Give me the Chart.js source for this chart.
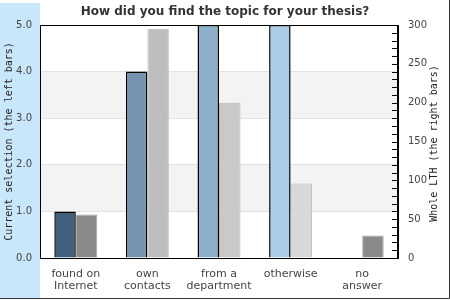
<!DOCTYPE html>
<html>
<head>
<meta charset="utf-8">
<script src="https://cdn.jsdelivr.net/npm/chart.js@4/dist/chart.umd.min.js"></script>
<style>
html,body{margin:0;padding:0;background:#fff;}
#wrap{width:450px;height:300px;position:relative;}
</style>
</head>
<body>
<div id="wrap"><canvas id="c" width="450" height="300"></canvas></div>
<script>
const titleText = 'How did you find the topic for your thesis?';
const categories = [['found on','Internet'], ['own','contacts'], ['from a','department'], 'otherwise', ['no','answer']];
const currentSelection = [1, 4, 5, 5, 0];
const wholeLTH = [56, 295, 200, 96, 29];
const leftTicks = [0, 1, 2, 3, 4, 5];
const rightTicks = [0, 50, 100, 150, 200, 250, 300];
const leftTitle = 'Current selection (the left bars)';
const rightTitle = 'Whole LTH (the right bars)';

const leftColors = ['#41607e', '#7393b0', '#8eafca', '#abcde8', '#c6e2f6'];
const rightColors = ['#8a8a8a', '#bebebe', '#c9c9c9', '#d8d8d8', '#8a8a8a'];
const rightBorders = ['#a8a8a8', '#c4c4c4', '#b8b8b8', '#bcbcbc', '#a0a0a0'];

const decor = {
  id: 'decor',
  beforeDraw(chart) {
    const ctx = chart.ctx, ca = chart.chartArea;
    const y = chart.scales.y;
    ctx.save();
    ctx.fillStyle = '#c8e7fb';
    ctx.fillRect(0, 3, ca.left, 295);
    ctx.fillStyle = '#f3f3f3';
    [[1, 2], [3, 4]].forEach(([a, b]) => {
      const y1 = y.getPixelForValue(b), y2 = y.getPixelForValue(a);
      ctx.fillRect(ca.left, y1, ca.right - ca.left, y2 - y1);
    });
    ctx.strokeStyle = '#333';
    ctx.lineWidth = 1;
    ctx.beginPath();
    ctx.moveTo(0, 298.5); ctx.lineTo(449.5, 298.5); ctx.lineTo(449.5, 0);
    ctx.stroke();
    ctx.restore();
  },
  afterDatasetsDraw(chart) {
    const ctx = chart.ctx, ca = chart.chartArea;
    const y2 = chart.scales.y2;
    ctx.save();
    ctx.strokeStyle = '#000';
    ctx.lineWidth = 1;
    ctx.strokeRect(Math.round(ca.left) + 0.5, Math.round(ca.top) + 0.5,
                   Math.round(ca.right - ca.left) - 1, Math.round(ca.bottom - ca.top));
    ctx.beginPath();
    for (let v = y2.min; v <= y2.max; v += 10) {
      const py = Math.round(y2.getPixelForValue(v)) + 0.5;
      ctx.moveTo(ca.right - 6, py);
      ctx.lineTo(ca.right, py);
    }
    ctx.stroke();
    ctx.fillStyle = '#222';
    ctx.font = '10px "DejaVu Sans Mono"';
    ctx.textAlign = 'center';
    ctx.textBaseline = 'middle';
    ctx.translate(434, (ca.top + ca.bottom) / 2 + 2);
    ctx.rotate(-Math.PI / 2);
    ctx.fillText(rightTitle, 0, 0);
    ctx.restore();
  }
};

new Chart(document.getElementById('c'), {
  type: 'bar',
  data: {
    labels: categories,
    datasets: [
      {
        label: 'Current selection',
        data: currentSelection,
        yAxisID: 'y',
        backgroundColor: leftColors,
        borderColor: '#000',
        borderWidth: 1.5,
        categoryPercentage: 0.6,
        barPercentage: 1.0
      },
      {
        label: 'Whole LTH',
        data: wholeLTH,
        yAxisID: 'y2',
        backgroundColor: rightColors,
        borderColor: rightBorders,
        borderWidth: 1,
        categoryPercentage: 0.6,
        barPercentage: 1.0
      }
    ]
  },
  options: {
    responsive: false,
    animation: false,
    devicePixelRatio: 1,
    layout: { padding: 0 },
    plugins: {
      legend: { display: false },
      tooltip: { enabled: false },
      title: {
        display: true,
        text: titleText,
        color: '#333',
        font: { family: 'DejaVu Sans', size: 12, weight: 'bold', lineHeight: 1.2 },
        padding: { top: 5, bottom: 5.6 }
      }
    },
    scales: {
      x: {
        grid: { display: false, drawTicks: false },
        border: { display: true, color: '#000' },
        ticks: {
          color: '#444',
          font: { family: 'DejaVu Sans', size: 11, lineHeight: 1.1 },
          padding: 10,
          maxRotation: 0,
          autoSkip: false
        },
        afterFit(s) { s.height = 300 - 258; }
      },
      y: {
        position: 'left',
        min: 0, max: 5,
        afterBuildTicks(s) { s.ticks = leftTicks.map(v => ({ value: v })); },
        grid: { color: '#e2e2e2', drawTicks: false },
        border: { display: true, color: '#000' },
        ticks: {
          color: '#444',
          font: { family: 'DejaVu Sans', size: 10 },
          padding: 8,
          callback: v => Number(v).toFixed(1)
        },
        title: {
          display: true,
          text: leftTitle,
          color: '#222',
          font: { family: 'DejaVu Sans Mono', size: 10, lineHeight: 1.2 },
          padding: { top: 3, bottom: 0 }
        },
        afterFit(s) { s.width = 40; }
      },
      y2: {
        position: 'right',
        min: 0, max: 300,
        afterBuildTicks(s) { s.ticks = rightTicks.map(v => ({ value: v })); },
        grid: { drawOnChartArea: false, drawTicks: false },
        border: { display: true, color: '#000' },
        ticks: {
          color: '#444',
          font: { family: 'DejaVu Sans', size: 10 },
          padding: 10
        },
        afterFit(s) { s.width = 52; }
      }
    }
  },
  plugins: [decor]
});
</script>
</body>
</html>
